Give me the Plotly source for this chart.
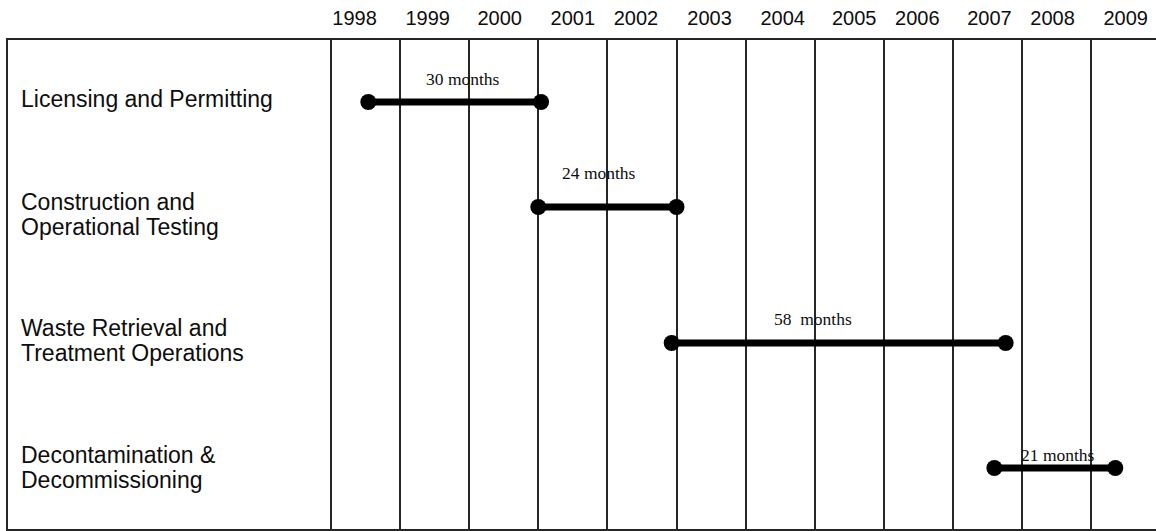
import plotly.graph_objects as go

# ---- schedule data -------------------------------------------------------
YEARS = list(range(1998, 2010))
TASKS = [
    "Licensing and Permitting",
    "Construction and\nOperational Testing",
    "Waste Retrieval and\nTreatment Operations",
    "Decontamination &\nDecommissioning",
]
START_YEAR = [1998.54, 2001.0, 2002.93, 2007.6]   # decimal year each phase begins
DURATION_MONTHS = [30, 24, 58, 21]
DURATION_TEXT = ["30 months", "24 months", "58\u00a0 months", "21 months"]

# ---- layout constants ----------------------------------------------------
W, H = 1156, 531
PX_1998 = 331.0       # pixel column where 1998 begins
PX_PER_YEAR = 69.1
FRAME_LEFT = 7.5
NAME_LEFT = 18.5      # anchor of the task-name column, in pixels
TOP, BOTTOM = 40, 529
ROW_Y = [102, 207, 343, 468]           # vertical centre of each schedule row
NAME_DY = [-3, 7, -2.5, -0.5]          # task-name block offset from the row centre
LABEL_DY = [-23, -34, -24, -13]        # duration label offset above its bar
LABEL_DX = [8, -8, -26, 3]
TICK_NUDGE_PX = [-11, -7, -4, 0, -6, -1.5, 2.5, 5, -1, 2, -4, 0]
SANS = "Liberation Sans, Arial, sans-serif"
SERIF = "Liberation Serif, Times New Roman, serif"
INK = "#0d0d0d"
RULE = "#262626"

x_lo = 1998 - (PX_1998 - FRAME_LEFT) / PX_PER_YEAR
x_hi = 1998 + (W - PX_1998) / PX_PER_YEAR

fig = go.Figure()

for i, task in enumerate(TASKS):
    x0 = START_YEAR[i]
    x1 = x0 + DURATION_MONTHS[i] / 12.0
    fig.add_trace(go.Scatter(
        x=[x0, x1], y=[ROW_Y[i], ROW_Y[i]],
        mode="lines+markers",
        line=dict(color="black", width=7),
        marker=dict(color="black", size=16),
        showlegend=False, hoverinfo="skip", cliponaxis=False,
    ))
    # duration label above the bar
    fig.add_annotation(
        x=(x0 + x1) / 2, y=ROW_Y[i] + LABEL_DY[i], xref="x", yref="y",
        text=DURATION_TEXT[i], showarrow=False, xshift=LABEL_DX[i],
        font=dict(family=SERIF, size=17.5, color=INK),
        xanchor="center", yanchor="middle",
    )
    # task name at the left, one annotation per line
    lines = task.split("\n")
    n = len(lines)
    for k, ln in enumerate(lines):
        y_line = ROW_Y[i] + NAME_DY[i] + (k - (n - 1) / 2) * 25
        fig.add_annotation(
            x=NAME_LEFT / W, y=y_line,
            xref="paper", yref="y", text=ln, showarrow=False,
            font=dict(family=SANS, size=23, color=INK),
            xanchor="left", yanchor="middle",
        )

fig.update_xaxes(
    domain=[FRAME_LEFT / W, 1], range=[x_lo, x_hi],
    side="top",
    tickmode="array",
    tickvals=[y + 0.5 + d / PX_PER_YEAR for y, d in zip(YEARS, TICK_NUDGE_PX)],
    ticktext=[str(y) for y in YEARS],
    tickfont=dict(family=SANS, size=20, color=INK),
    ticklabelstandoff=5,
    ticks="", showgrid=False, zeroline=False,
    showline=True, linecolor=RULE, linewidth=2, mirror=True,
    minor=dict(tickmode="array", tickvals=YEARS, showgrid=True,
               gridcolor=RULE, gridwidth=1.5, ticks=""),
    fixedrange=True,
)
fig.update_yaxes(
    range=[BOTTOM, TOP], showticklabels=False, showgrid=False,
    zeroline=False, showline=True, linecolor=RULE, linewidth=2,
    mirror=False, fixedrange=True,
)
fig.update_layout(
    width=W, height=H,
    margin=dict(l=0, r=0, t=TOP, b=H - BOTTOM, pad=0),
    plot_bgcolor="white", paper_bgcolor="white",
)

fig.write_html("out.html")
